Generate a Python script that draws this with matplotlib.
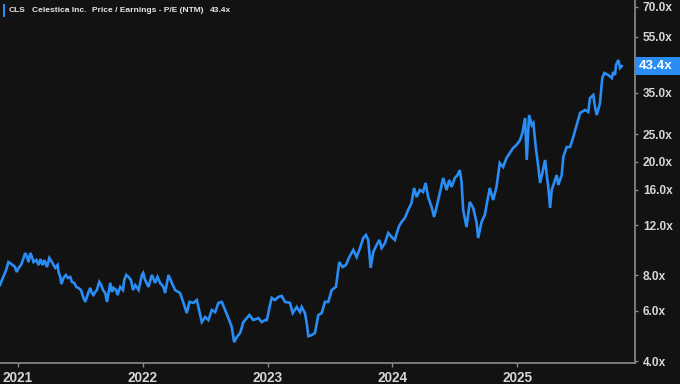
import matplotlib
matplotlib.use("Agg")
import matplotlib.pyplot as plt
import matplotlib.dates as mdates
from matplotlib.patches import Rectangle
import numpy as np
import pandas as pd

# decimal years / P/E (NTM)
years = [
    2020.858, 2020.880, 2020.898, 2020.912, 2020.925, 2020.938, 2020.960, 2020.978, 2020.992, 2021.005,
    2021.024, 2021.045, 2021.058, 2021.072, 2021.085, 2021.098, 2021.112, 2021.125, 2021.147, 2021.165,
    2021.179, 2021.197, 2021.211, 2021.232, 2021.251, 2021.272, 2021.285, 2021.299, 2021.317, 2021.325,
    2021.339, 2021.347, 2021.365, 2021.384, 2021.400, 2021.419, 2021.432, 2021.451, 2021.467, 2021.485,
    2021.504, 2021.512, 2021.525, 2021.539, 2021.552, 2021.565, 2021.579, 2021.592, 2021.605, 2021.619,
    2021.632, 2021.651, 2021.667, 2021.681, 2021.699, 2021.713, 2021.725, 2021.739, 2021.753, 2021.765,
    2021.787, 2021.797, 2021.819, 2021.841, 2021.851, 2021.867, 2021.885, 2021.905, 2021.921, 2021.939,
    2021.966, 2021.993, 2022.003, 2022.019, 2022.046, 2022.073, 2022.099, 2022.118, 2022.139, 2022.166,
    2022.179, 2022.206, 2022.233, 2022.259, 2022.299, 2022.326, 2022.353, 2022.374, 2022.406, 2022.433,
    2022.460, 2022.473, 2022.500, 2022.526, 2022.553, 2022.580, 2022.606, 2022.633, 2022.660, 2022.686,
    2022.713, 2022.732, 2022.753, 2022.780, 2022.806, 2022.833, 2022.854, 2022.886, 2022.926, 2022.953,
    2022.980, 2022.994, 2023.020, 2023.034, 2023.060, 2023.086, 2023.114, 2023.140, 2023.180, 2023.202,
    2023.234, 2023.260, 2023.274, 2023.300, 2023.314, 2023.327, 2023.354, 2023.380, 2023.407, 2023.434,
    2023.460, 2023.487, 2023.514, 2023.548, 2023.575, 2023.602, 2023.628, 2023.655, 2023.687, 2023.714,
    2023.741, 2023.767, 2023.789, 2023.807, 2023.826, 2023.847, 2023.874, 2023.895, 2023.914, 2023.941,
    2023.967, 2023.994, 2024.021, 2024.039, 2024.055, 2024.074, 2024.101, 2024.127, 2024.154, 2024.175,
    2024.195, 2024.221, 2024.247, 2024.267, 2024.287, 2024.315, 2024.335, 2024.355, 2024.381, 2024.408,
    2024.435, 2024.456, 2024.475, 2024.501, 2024.523, 2024.541, 2024.555, 2024.568, 2024.595, 2024.621,
    2024.648, 2024.675, 2024.688, 2024.715, 2024.741, 2024.781, 2024.808, 2024.835, 2024.861, 2024.888,
    2024.915, 2024.941, 2024.968, 2024.995, 2025.022, 2025.040, 2025.062, 2025.075, 2025.094, 2025.115,
    2025.128, 2025.147, 2025.168, 2025.182, 2025.200, 2025.222, 2025.240, 2025.248, 2025.262, 2025.275,
    2025.302, 2025.315, 2025.328, 2025.355, 2025.368, 2025.395, 2025.422, 2025.448, 2025.475, 2025.502,
    2025.542, 2025.568, 2025.582, 2025.608, 2025.622, 2025.636, 2025.662, 2025.680, 2025.696, 2025.728,
    2025.756, 2025.768, 2025.782, 2025.790, 2025.809, 2025.822, 2025.836,
]
pe = [
    7.39, 7.82, 8.15, 8.48, 8.90, 8.83, 8.69, 8.55, 8.21, 8.49,
    8.69, 9.20, 9.58, 9.27, 8.90, 9.58, 9.27, 8.90, 9.05, 8.69,
    9.12, 8.69, 9.05, 8.55, 9.20, 8.90, 8.69, 8.49, 8.69, 8.21,
    7.89, 7.45, 7.83, 8.02, 7.83, 7.89, 7.58, 7.52, 7.28, 7.22,
    7.10, 6.93, 6.66, 6.45, 6.71, 6.99, 7.22, 6.93, 6.82, 6.99,
    7.10, 7.58, 7.39, 7.10, 6.93, 6.45, 6.93, 7.52, 6.99, 7.22,
    7.10, 6.82, 7.28, 7.10, 7.70, 8.02, 7.89, 7.70, 7.10, 7.39,
    7.10, 8.02, 8.15, 7.70, 7.28, 8.02, 7.52, 7.89, 7.52, 7.28,
    6.93, 8.02, 7.52, 7.10, 6.93, 6.40, 5.89, 6.45, 6.40, 6.55,
    5.80, 5.48, 5.71, 5.57, 6.04, 5.94, 6.40, 6.45, 6.04, 5.66,
    5.26, 4.66, 4.85, 5.02, 5.48, 5.66, 5.80, 5.57, 5.66, 5.48,
    5.57, 5.57, 6.29, 6.66, 6.55, 6.71, 6.77, 6.45, 6.40, 5.89,
    6.19, 5.94, 6.19, 5.89, 5.44, 4.89, 4.93, 5.02, 5.80, 5.89,
    6.45, 6.45, 7.10, 7.28, 8.90, 8.55, 8.69, 9.27, 9.81, 9.27,
    9.97, 10.81, 11.08, 10.64, 8.49, 9.65, 10.22, 10.64, 9.97, 10.39,
    11.26, 10.90, 10.64, 11.35, 11.91, 12.30, 12.72, 13.56, 14.35, 16.20,
    15.06, 15.94, 15.68, 16.87, 15.06, 13.89, 12.82, 13.89, 15.56, 17.56,
    15.94, 17.28, 16.33, 17.56, 17.99, 18.73, 17.00, 13.56, 11.81, 14.47,
    13.78, 12.30, 10.81, 12.30, 13.02, 16.20, 14.70, 16.33, 19.83, 19.20,
    20.64, 21.49, 22.38, 22.93, 23.88, 25.27, 28.52, 20.31, 29.22, 26.95,
    27.39, 22.56, 19.20, 16.87, 18.28, 20.31, 17.28, 16.33, 13.78, 15.94,
    17.28, 17.99, 16.60, 17.99, 20.82, 22.56, 22.56, 24.47, 26.95, 29.70,
    30.43, 29.94, 33.53, 34.35, 31.18, 29.22, 32.21, 39.41, 41.03, 40.38,
    39.41, 41.37, 40.38, 43.78, 45.59, 42.73, 43.40,
]
ytick_vals = [4, 6, 8, 12, 16, 20, 25, 35, 45, 55, 70]
year_ticks = [2021, 2022, 2023, 2024, 2025]
last_label = "43.4x"
header_parts = ["CLS", "Celestica Inc.", "Price / Earnings - P/E (NTM)", "43.4x"]

BG = "#121212"
BLUE = "#2a8cf5"
GRID = "#8c8c8c"
TXT = "#d6d6d6"
FONT = ["Liberation Sans Narrow", "Liberation Sans"]


def to_date(y):
    yr = int(np.floor(y))
    return pd.Timestamp(f"{yr}-01-01") + pd.Timedelta(days=(y - yr) * 365.25)


dates = [to_date(y) for y in years]

fig = plt.figure(figsize=(6.8, 3.84), dpi=100, facecolor=BG)
ax = fig.add_axes([0.0, 21 / 384, 634.6 / 680, 1 - 21 / 384])
ax.set_facecolor(BG)

ax.plot(dates, pe, color=BLUE, lw=1.9, solid_joinstyle="miter")

ax.set_yscale("log")
ax.set_ylim(3.936, 74.05)
ax.set_xlim(to_date(2020.858), to_date(2025.939))

ax.yaxis.tick_right()
ax.set_yticks(ytick_vals)
ax.set_yticklabels([f"{v:.1f}x" for v in ytick_vals])
ax.yaxis.set_minor_locator(matplotlib.ticker.NullLocator())
ax.tick_params(axis="y", which="major", direction="out", length=2, width=1,
               color=GRID, pad=4, labelsize=8.6, labelcolor=TXT)

ax.set_xticks([to_date(y) for y in year_ticks])
ax.set_xticklabels([str(y) for y in year_ticks])
ax.tick_params(axis="x", direction="out", length=3, width=1, color=GRID,
               pad=3, labelsize=9.8, labelcolor=TXT)

for lab in ax.get_xticklabels() + ax.get_yticklabels():
    lab.set_fontfamily("Liberation Sans")
    lab.set_fontweight("bold")

for side in ["top", "left"]:
    ax.spines[side].set_visible(False)
for side in ["bottom", "right"]:
    ax.spines[side].set_color(GRID)
    ax.spines[side].set_linewidth(1.2)

# last value tag on the right axis
fig.canvas.draw()
yfig = fig.transFigure.inverted().transform(
    ax.transData.transform((mdates.date2num(dates[-1]), pe[-1])))[1]
h = 18 / 384
fig.patches.append(Rectangle((634.6 / 680 + 0.5 / 680, yfig - h / 2), 1, h,
                             transform=fig.transFigure, facecolor=BLUE,
                             edgecolor="none", zorder=10))
fig.text(639 / 680, yfig, last_label, color="white", fontsize=9.6,
         fontweight="bold", family="Liberation Sans", ha="left", va="center",
         zorder=11)

# header, laid out piece by piece
fig.patches.append(Rectangle((2.5 / 680, 1 - 17 / 384), 2 / 680, 13 / 384,
                             transform=fig.transFigure, facecolor=BLUE,
                             edgecolor="none"))
renderer = fig.canvas.get_renderer()
px = 9
for part in header_parts:
    t = fig.text(px / 680, 1 - 10 / 384, part, color="#e6e6e6", fontsize=6.0,
                 fontweight="bold", family=FONT, va="center")
    px = t.get_window_extent(renderer).x1 + 6

fig.savefig("out.png", dpi=100, facecolor=BG)
